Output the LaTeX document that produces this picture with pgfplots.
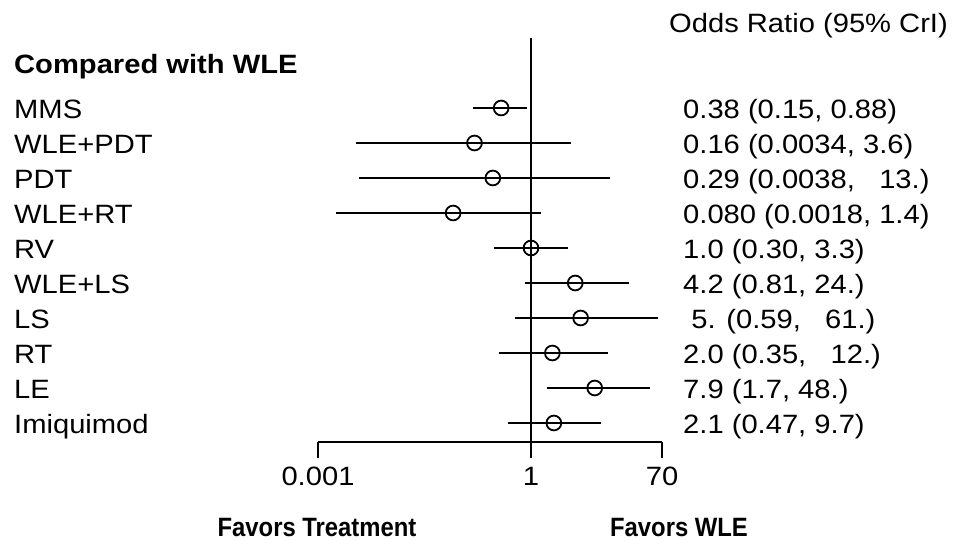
\documentclass[border=0pt]{standalone}
\usepackage{pgfplots}
\pgfplotsset{compat=1.18}
\usepackage{pgfplotstable}
\usepackage{fontspec}
\setmainfont[FakeStretch=1.1]{Liberation Sans}
\newfontfamily\narrowfont[FakeStretch=0.9]{Liberation Sans}
\newcommand\fs{\fontsize{26.5bp}{30bp}\selectfont}
\pgfplotstableread{
y or lo hi
-1 0.38 0.15 0.88
-2 0.16 0.0034 3.6
-3 0.29 0.0038 13
-4 0.080 0.0018 1.4
-5 1.0 0.30 3.3
-6 4.2 0.81 24
-7 5 0.59 61
-8 2.0 0.35 12
-9 7.9 1.7 48
-10 2.1 0.47 9.7
}\data
\begin{document}
\begin{tikzpicture}
\path[use as bounding box] (0,0) rectangle (963bp,541bp);
\begin{axis}[
  at={(318bp,99bp)}, anchor=south west, scale only axis,
  width=344bp, height=404bp,
  xmode=log, xmin=0.001, xmax=70, ymin=-10.543, ymax=1,
  axis y line=none, axis x line*=bottom,
  axis line style={line width=2.2bp, -},
  xtick={0.001,1,70}, xticklabels={0.001,1,70}, minor xtick={},
  tick align=outside, major tick length=16bp,
  tick style={line width=2.2bp, black},
  xticklabel style={font=\fs, inner sep=0pt, anchor=north, yshift=-9bp},
  clip=false,
]
\addplot[black, line width=2.2bp] coordinates {(1,1) (1,-11.0)};
\addplot[black, line width=2.4bp] coordinates {(0.15,-1) (0.88,-1)};
\addplot[black, line width=2.4bp] coordinates {(0.0034,-2) (3.6,-2)};
\addplot[black, line width=2.4bp] coordinates {(0.0038,-3) (13,-3)};
\addplot[black, line width=2.4bp] coordinates {(0.0018,-4) (1.4,-4)};
\addplot[black, line width=2.4bp] coordinates {(0.30,-5) (3.3,-5)};
\addplot[black, line width=2.4bp] coordinates {(0.81,-6) (24,-6)};
\addplot[black, line width=2.4bp] coordinates {(0.59,-7) (61,-7)};
\addplot[black, line width=2.4bp] coordinates {(0.35,-8) (12,-8)};
\addplot[black, line width=2.4bp] coordinates {(1.7,-9) (48,-9)};
\addplot[black, line width=2.4bp] coordinates {(0.47,-10) (9.7,-10)};
\addplot[black, only marks, mark=o, mark size=7.4bp, mark options={line width=1.8bp}] table[x=or, y=y] {\data};
\end{axis}
\begin{scope}[every node/.style={inner sep=0pt, font=\fs}]
\node[anchor=base west] at (669bp,508bp) {Odds Ratio (95\% CrI)};
\node[anchor=base west, font=\fs\bfseries] at (14bp,467bp) {Compared with WLE};
\node[anchor=base west] at (14bp,422bp) {MMS};
\node[anchor=base west] at (14bp,387bp) {WLE+PDT};
\node[anchor=base west] at (14bp,352bp) {PDT};
\node[anchor=base west] at (14bp,317bp) {WLE+RT};
\node[anchor=base west] at (14bp,282bp) {RV};
\node[anchor=base west] at (14bp,247bp) {WLE+LS};
\node[anchor=base west] at (14bp,212bp) {LS};
\node[anchor=base west] at (14bp,177bp) {RT};
\node[anchor=base west] at (14bp,142bp) {LE};
\node[anchor=base west] at (14bp,107bp) {Imiquimod};
\node[anchor=base west] at (683bp,422bp) {0.38 (0.15, 0.88)};
\node[anchor=base west] at (683bp,387bp) {0.16 (0.0034, 3.6)};
\node[anchor=base west] at (683bp,352bp) {0.29 (0.0038,~~~13.)};
\node[anchor=base west] at (683bp,317bp) {0.080 (0.0018, 1.4)};
\node[anchor=base west] at (683bp,282bp) {1.0 (0.30, 3.3)};
\node[anchor=base west] at (683bp,247bp) {4.2 (0.81, 24.)};
\node[anchor=base west] at (683bp,212bp) {~5. (0.59,~~~61.)};
\node[anchor=base west] at (683bp,177bp) {2.0 (0.35,~~~12.)};
\node[anchor=base west] at (683bp,142bp) {7.9 (1.7, 48.)};
\node[anchor=base west] at (683bp,107bp) {2.1 (0.47, 9.7)};
\node[anchor=base, font=\fs\narrowfont\bfseries] at (317bp,5bp) {Favors Treatment};
\node[anchor=base, font=\fs\narrowfont\bfseries] at (679bp,5bp) {Favors WLE};
\end{scope}
\end{tikzpicture}
\end{document}
